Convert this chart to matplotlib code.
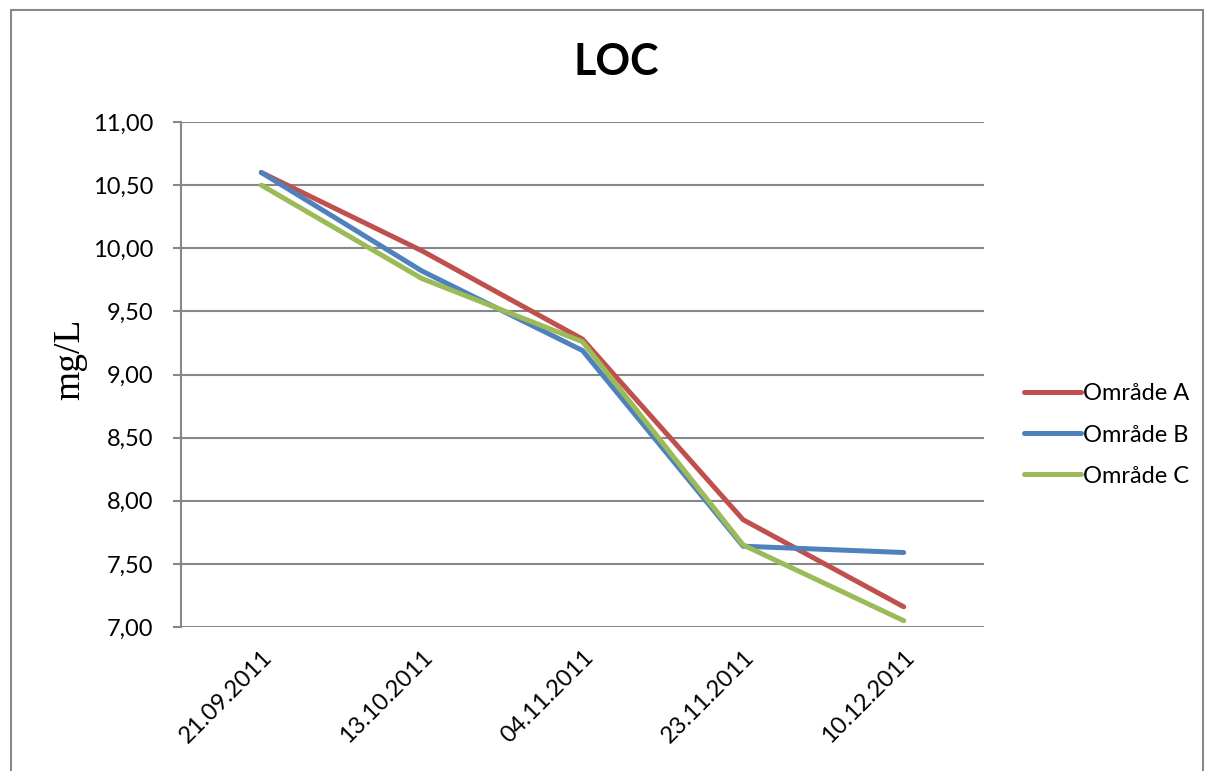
import matplotlib
matplotlib.use('Agg')
import matplotlib.pyplot as plt
from matplotlib.patches import Rectangle
from matplotlib.ticker import FuncFormatter

# Sampling dates and LOC measurements (mg/L) per area
dates = ['21.09.2011', '13.10.2011', '04.11.2011', '23.11.2011', '10.12.2011']
omr_a = [10.60, 9.98, 9.28, 7.85, 7.16]
omr_b = [10.60, 9.82, 9.19, 7.64, 7.59]
omr_c = [10.50, 9.76, 9.26, 7.65, 7.05]

series = [('Område A', omr_a, '#C0504D'),
          ('Område B', omr_b, '#4F81BD'),
          ('Område C', omr_c, '#9BBB59')]

plt.rcParams['font.family'] = ['Lato', 'DejaVu Sans']

fig = plt.figure(figsize=(12.09, 7.71), dpi=100)
ax = fig.add_axes([181/1209, 1 - 627/771, (984 - 181)/1209, (627 - 122)/771])

x = list(range(len(dates)))
for name, vals, col in series:
    ax.plot(x, vals, color=col, lw=3.6, label=name, solid_capstyle='round',
            solid_joinstyle='round')

ax.set_xlim(-0.5, len(dates) - 0.5)
ax.set_ylim(7.0, 11.0)
ax.set_yticks([7.0 + 0.5*i for i in range(9)])
ax.yaxis.set_major_formatter(FuncFormatter(lambda v, p: f'{v:.2f}'.replace('.', ',')))
ax.set_xticks(x)
ax.set_xticklabels(dates, rotation=45, ha='right', rotation_mode='anchor')

ax.grid(axis='y', color='#878787', lw=1.5)
ax.set_axisbelow(True)
for s in ['top', 'right', 'bottom']:
    ax.spines[s].set_visible(False)
ax.spines['left'].set_color('#878787')
ax.spines['left'].set_linewidth(1.5)
ax.tick_params(axis='y', length=6, width=1.5, color='#878787', labelsize=17, pad=14)
ax.tick_params(axis='x', length=0, labelsize=17, pad=14)

ax.set_ylabel('mg/L', family='Liberation Serif', fontsize=27, va='center')
ax.yaxis.set_label_coords(-0.138, 0.53)
fig.text(616/1209, 1 - 62/771, 'LOC', ha='center', va='center',
         fontsize=31, fontweight='bold')

ax.legend(loc='center left', bbox_to_anchor=(1024/1209, 1 - 435/771),
          bbox_transform=fig.transFigure, frameon=False, fontsize=17,
          handlelength=2.4, handletextpad=0.1, labelspacing=0.85,
          borderpad=0, borderaxespad=0)

# chart border
fig.patches.append(Rectangle((11/1209, -0.05), (1203 - 11)/1209, 1.05 - 10/771,
                             transform=fig.transFigure, fill=False,
                             edgecolor='#888888', lw=1.5))

plt.savefig('out.png', dpi=100)
plt.close()
